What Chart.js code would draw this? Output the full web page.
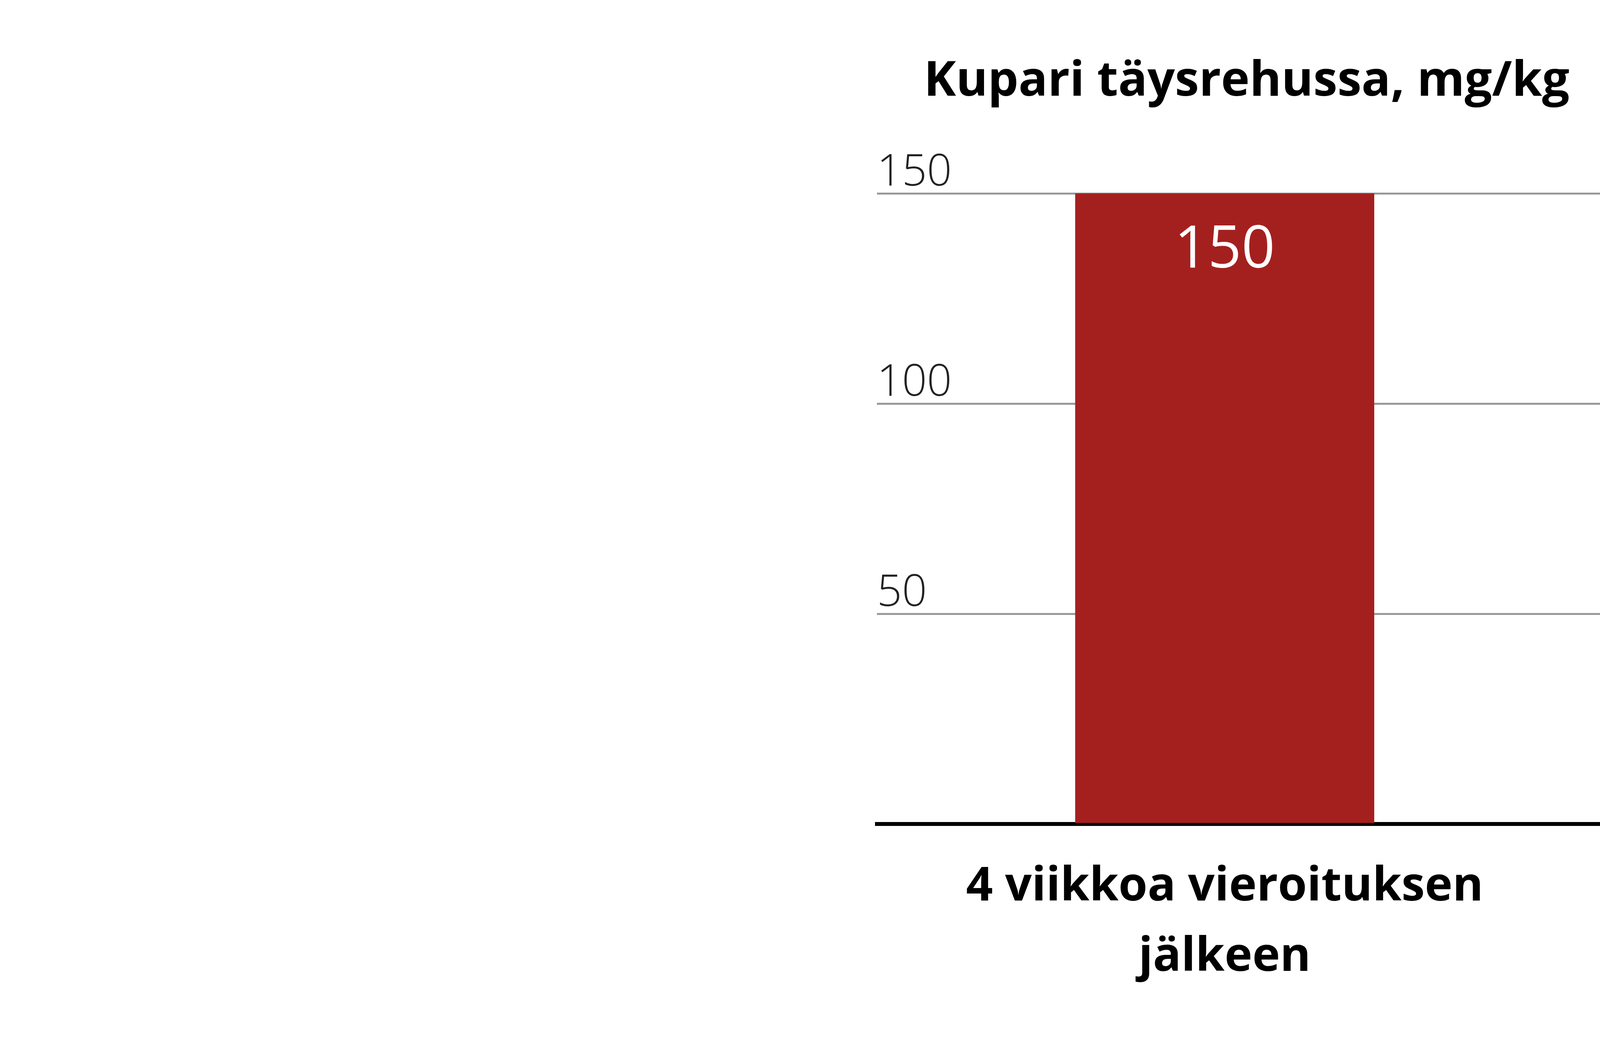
<!DOCTYPE html>
<html>
<head>
<meta charset="utf-8">
<script src="https://cdn.jsdelivr.net/npm/chart.js@4"></script>
<style>
  html, body { margin: 0; padding: 0; background: #fff; overflow: hidden; }
  #wrap { position: relative; width: 8000px; height: 2708px; }
</style>
</head>
<body>
<div id="wrap"><canvas id="chart"></canvas></div>
<script>
const categories = [['4 viikkoa vieroituksen', 'jälkeen'], ['5-8 viikkoa vieroituksen', 'jälkeen']];
const copperValues = [150, 100];
const yTicks = [50, 100, 150];
const chartTitle = 'Kupari täysrehussa, mg/kg';

// custom text: title, tick labels above grid lines, values inside bars, category labels
const textPlugin = {
    id: 'texts',
    afterDraw(chart) {
        const ctx = chart.ctx;
        const y = chart.scales.y;
        const x = chart.scales.x;
        const area = chart.chartArea;
        ctx.save();
        ctx.fillStyle = '#000';
        ctx.textBaseline = 'alphabetic';
        ctx.textAlign = 'left';
        ctx.font = 'bold 124px "Open Sans"';
        ctx.fillText(chartTitle, 2365, 245);

        ctx.font = '300 112px "Open Sans"';
        ctx.fillStyle = '#222';
        yTicks.forEach(t => {
            ctx.fillText(String(t), area.left, y.getPixelForValue(t) - 20);
        });

        ctx.textAlign = 'center';
        ctx.font = 'bold 120px "Open Sans"';
        ctx.fillStyle = '#000';
        categories.forEach((lines, i) => {
            const cx = x.getPixelForValue(i);
            lines.forEach((l, j) => ctx.fillText(l, cx, 2305 + j * 180));
        });

        ctx.font = '150px "Open Sans"';
        ctx.fillStyle = '#fff';
        const meta = chart.getDatasetMeta(0);
        meta.data.forEach((bar, i) => {
            ctx.fillText(String(copperValues[i]), bar.x, bar.y + 190);
        });
        ctx.restore();
    }
};

new Chart(document.getElementById('chart').getContext('2d'), {
    type: 'bar',
    data: {
        labels: categories,
        datasets: [{
            data: copperValues,
            backgroundColor: '#a4201e',
            barPercentage: 0.43,
            categoryPercentage: 1
        }]
    },
    options: {
        responsive: true,
        maintainAspectRatio: false,
        animation: false,
        layout: { padding: { left: 2245, right: 2194, top: 495, bottom: 591 } },
        plugins: { legend: { display: false }, tooltip: { enabled: false } },
        scales: {
            x: {
                grid: { display: false },
                ticks: { display: false },
                border: { color: '#000', width: 10 }
            },
            y: {
                min: 0,
                max: 150,
                ticks: { display: false, stepSize: 50 },
                grid: { color: '#999', lineWidth: 5, drawTicks: false },
                border: { display: false }
            }
        }
    },
    plugins: [textPlugin]
});
</script>
</body>
</html>
